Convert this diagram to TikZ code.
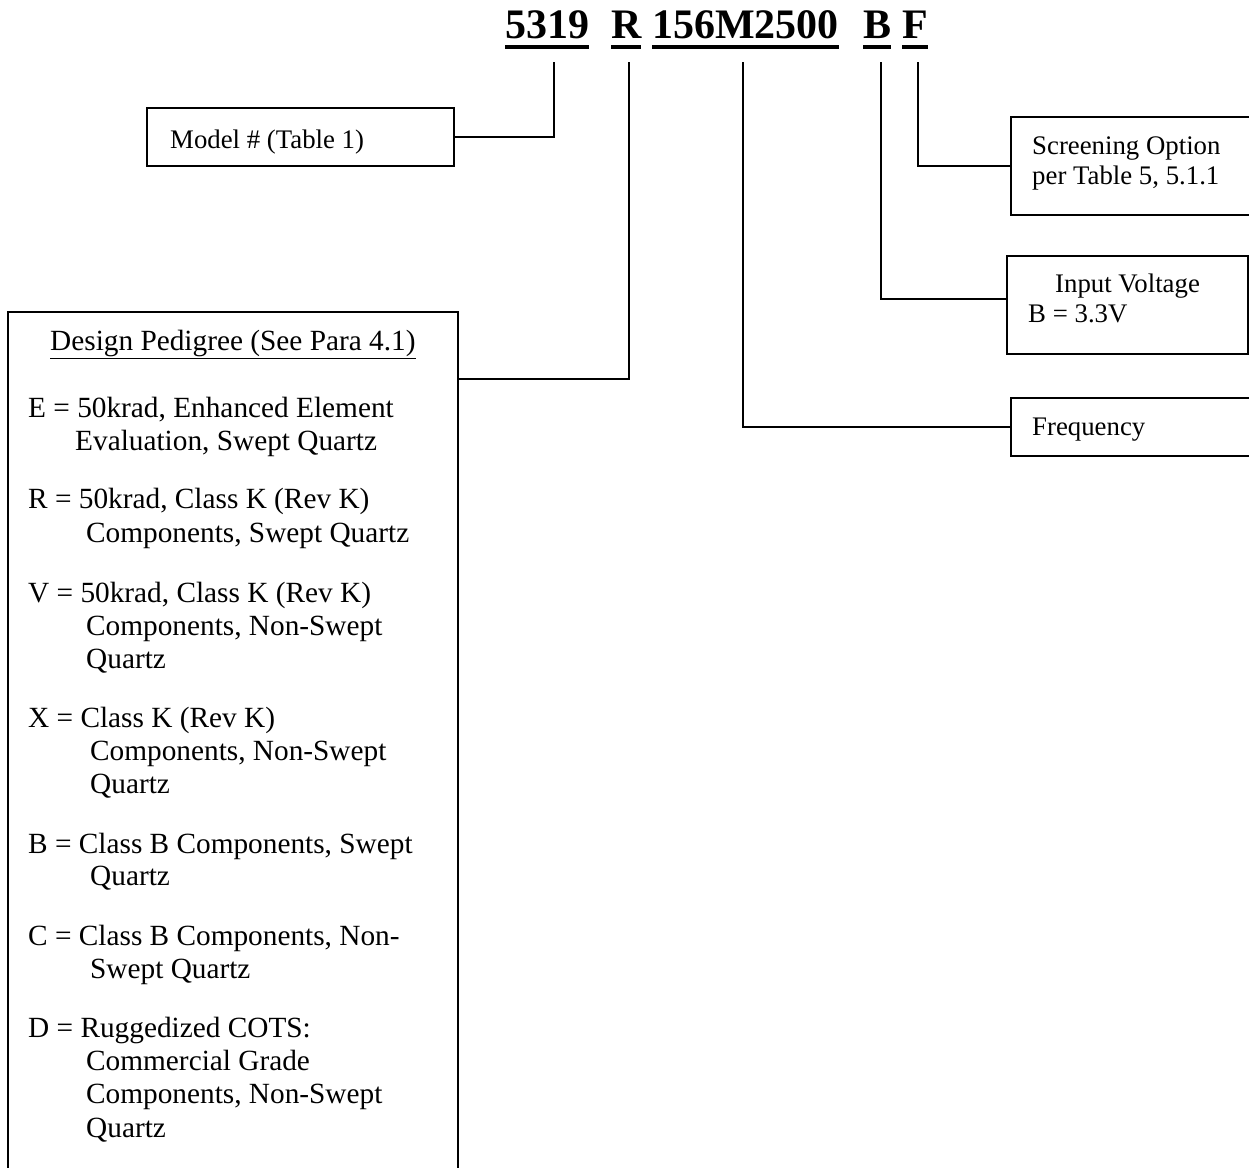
\documentclass[tikz,border=0pt]{standalone}
\usepackage{fontspec}
\setmainfont{Liberation Serif}
\begin{document}
\begin{tikzpicture}[x=1pt,y=-1pt,
  box/.style={draw, line width=1.8pt, inner sep=0pt, outer sep=0pt, anchor=north west},
  wire/.style={line width=1.8pt},
  ttl/.style={font=\fontsize{42}{46}\selectfont\bfseries, inner sep=0pt, outer sep=0pt, anchor=base west},
  txt/.style={font=\fontsize{29.3}{33}\selectfont, inner sep=0pt, anchor=base west},
  stxt/.style={font=\fontsize{26.8}{30}\selectfont, inner sep=0pt, anchor=base west},
  uline/.style={line width=4pt}]
\useasboundingbox (0,0) rectangle (1249,1167);
\clip (0,0) rectangle (1249,1167);

% title
\node[ttl] (t1) at (505,38) {5319};
\node[ttl] (t2) at (611,38) {R};
\node[ttl] (t3) at (652,38) {156M2500};
\node[ttl] (t4) at (863,38) {B};
\node[ttl] (t5) at (902,38) {F};
\foreach \n in {t1,t2,t3,t4,t5}
  \draw[uline] ([yshift=-9pt]\n.base west) -- ([yshift=-9pt]\n.base east);

\coordinate (c1) at (554,62);
\coordinate (c2) at (629,62);
\coordinate (c3) at (743,62);
\coordinate (c4) at (881,62);
\coordinate (c5) at (918,62);

% boxes
\node[box, minimum width=307pt, minimum height=58pt] (model) at (147,108) {};
\node[box, minimum width=450pt, minimum height=900pt] (ped) at (8,312) {};
\node[box, minimum width=260pt, minimum height=98pt] (scr) at (1011,117) {};
\node[box, minimum width=241pt, minimum height=98pt] (volt) at (1007,256) {};
\node[box, minimum width=260pt, minimum height=58pt] (freq) at (1011,398) {};

% texts in small boxes
\node[stxt] (modelt) at (170,148) {Model \# (Table 1)};
\node[stxt] (scr1) at (1032,154) {Screening Option};
\node[stxt] (scr2) at (1032,184) {per Table 5, 5.1.1};
\node[stxt] (volt1) at (1055,292) {Input Voltage};
\node[stxt] (volt2) at (1028,322) {B = 3.3V};
\node[stxt] (freqt) at (1032,435) {Frequency};

% pedigree box text
\node[txt] (hdr) at (50,350) {\underline{Design Pedigree (See Para 4.1)}};
\foreach \px/\py/\pt [count=\k] in {
  28/417/{E = 50krad, Enhanced Element},
  75/450/{Evaluation, Swept Quartz},
  28/508/{R = 50krad, Class K (Rev K)},
  86/542/{Components, Swept Quartz},
  28/602/{V = 50krad, Class K (Rev K)},
  86/635/{Components, Non-Swept},
  86/668/{Quartz},
  28/727/{X = Class K (Rev K)},
  90/760/{Components, Non-Swept},
  90/793/{Quartz},
  28/853/{B = Class B Components, Swept},
  90/885/{Quartz},
  28/945/{C = Class B Components, Non-},
  90/978/{Swept Quartz},
  28/1037/{D = Ruggedized COTS:},
  86/1070/{Commercial Grade},
  86/1103/{Components, Non-Swept},
  86/1137/{Quartz}}
  \node[txt] (p\k) at (\px,\py) {\pt};

% connectors
\draw[wire] (c1) |- (model.east);
\draw[wire] (c2) |- (ped.north east |- 0,379);
\draw[wire] (c3) |- (freq.west);
\draw[wire] (c4) |- (volt.west |- 0,299);
\draw[wire] (c5) |- (scr.west);
\end{tikzpicture}
\end{document}
